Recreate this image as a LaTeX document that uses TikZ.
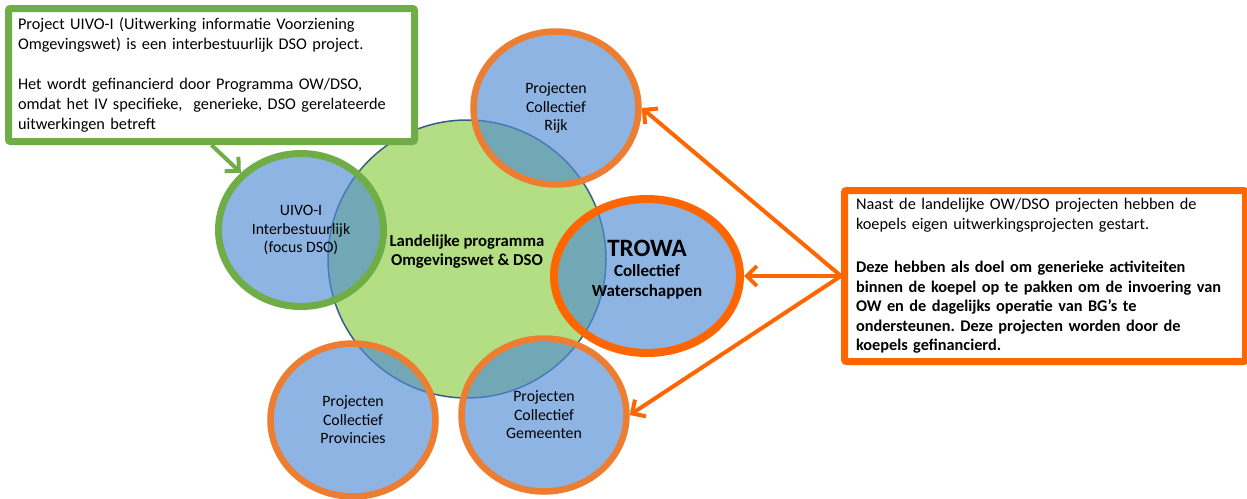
\documentclass[tikz,border=0pt]{standalone}
\usepackage{fontspec}
\setmainfont{Carlito}
\usetikzlibrary{shapes.geometric,arrows.meta}
\frenchspacing

\definecolor{vertfond}{RGB}{179,222,131}
\definecolor{vertbord}{RGB}{112,173,71}
\definecolor{bleufond}{RGB}{80,140,210}
\definecolor{bleubord}{RGB}{56,93,138}
\definecolor{orangeclair}{RGB}{237,125,49}
\definecolor{orangevif}{RGB}{255,102,0}

\begin{document}
\begin{tikzpicture}[x=1pt,y=-1pt,
  projet/.style={ellipse,minimum width=165pt,minimum height=153pt,inner sep=0pt,
    fill=bleufond,fill opacity=0.65,text opacity=1,draw=orangeclair,line width=6.5pt,
    align=center,font=\fontsize{15.8}{18.5}\selectfont},
  cadre/.style={rectangle,rounded corners=2pt,fill=white,line width=7pt,align=left},
  fleche/.style={line width=4pt,-{Straight Barb[length=10pt,width=20pt]}}]

\useasboundingbox (0,0) rectangle (1247,498);

% Cercle central (en vert)
\node[circle,minimum size=278pt,inner sep=0pt,fill=vertfond,draw=bleubord,line width=1.5pt] (centre) at (467,259) {};
\node[align=center,font=\bfseries\fontsize{16.7}{19}\selectfont] (titre) at ([yshift=7pt]centre) {Landelijke programma\\Omgevingswet \& DSO};

% Les projets autour
\node[projet,draw=vertbord,line width=7pt] (uivo) at (301,230) {UIVO-I\\Interbestuurlijk\\(focus DSO)};
\node[projet] (rijk) at (556,108) {Projecten\\Collectief\\Rijk};
\node[projet,draw=orangevif,line width=8pt,minimum width=186pt,minimum height=154pt,font=\bfseries\fontsize{17}{20}\selectfont] (trowa) at (647,276) {{\fontsize{25}{26}\selectfont TROWA}\\Collectief\\Waterschappen\\[-4pt]};
\node[projet] (prov) at (353,420) {Projecten\\Collectief\\Provincies};
\node[projet] (gem) at (544,415) {Projecten\\Collectief\\Gemeenten};

% Cadre a gauche (en vert)
\node[cadre,draw=vertbord,minimum width=406pt,minimum height=133pt,text width=387pt,inner xsep=9.5pt,
  font=\fontsize{16.3}{20}\selectfont] (gbox) at (211.5,75)
  {Project UIVO-I (Uitwerking informatie Voorziening\\
   Omgevingswet) is een interbestuurlijk DSO project.\\[20pt]
   Het wordt gefinancierd door Programma OW/DSO,\\
   omdat het IV specifieke,~ generieke, DSO gerelateerde\\
   uitwerkingen betreft};

% Cadre a droite (en orange)
\node[cadre,draw=orangevif,minimum width=397pt,minimum height=171pt,text width=378pt,inner xsep=11.5pt,
  font=\fontsize{16.3}{19.5}\selectfont] (obox) at (1045,276)
  {Naast de landelijke OW/DSO projecten hebben de\\
   koepels eigen uitwerkingsprojecten gestart.\\[24pt]
   \textbf{Deze hebben als doel om generieke activiteiten}\\
   \textbf{binnen de koepel op te pakken om de invoering van}\\
   \textbf{OW en de dagelijks operatie van BG’s te}\\
   \textbf{ondersteunen. Deze projecten worden door de}\\
   \textbf{koepels gefinancierd.}};

% Fleches
\draw[fleche,vertbord] (gbox.south) -- (uivo);
\draw[fleche,orangevif] (obox.west) -- (rijk.east);
\draw[fleche,orangevif] (obox.west) -- (trowa.east);
\draw[fleche,orangevif] (obox.west) -- (gem.east);

\end{tikzpicture}
\end{document}
